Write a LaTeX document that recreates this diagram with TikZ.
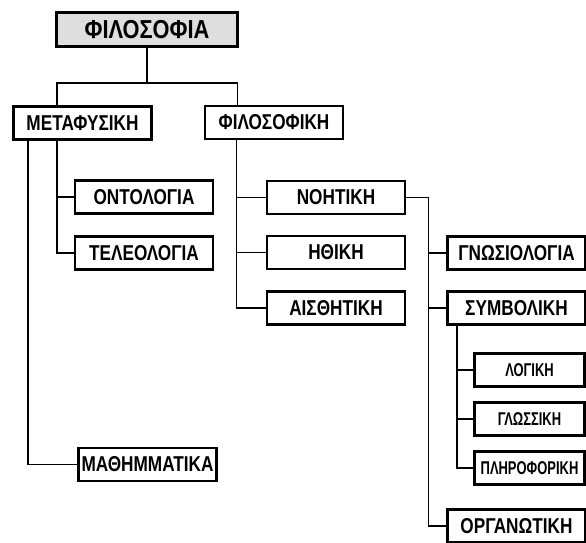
\documentclass[tikz,border=0pt]{standalone}
\usepackage{fontspec}
\setmainfont{Liberation Sans}[FakeStretch=0.80]
\newfontfamily\headfont{Liberation Sans}[FakeStretch=0.84]
\newfontfamily\narrowfont{Liberation Sans}[FakeStretch=0.70]
\usepackage{tikz}
\usetikzlibrary{positioning}

\begin{document}
\begin{tikzpicture}[
  x=1pt, y=-1pt,
  box/.style={draw, line width=2.8pt, align=center, font=\bfseries\fontsize{21.5}{23}\selectfont, inner sep=0pt, minimum width=138pt, minimum height=33pt},
  head/.style={box, fill=black!13, minimum width=181pt, minimum height=34pt, font=\headfont\bfseries\fontsize{26}{28}\selectfont},
  small/.style={box, minimum width=110pt, font=\narrowfont\bfseries\fontsize{18.5}{20}\selectfont},
  link/.style={line width=1.3pt}]
  \useasboundingbox (0,0) rectangle (586,543);
  \node[head] (root) at (147,29.5) {ΦΙΛΟΣΟΦΙΑ};
  \node[box] (meta) at (82.5,123) {ΜΕΤΑΦΥΣΙΚΗ};
  \node[box] (filo) at (274,122.5) {ΦΙΛΟΣΟΦΙΚΗ};
  \node[box] (onto) at (144,197) {ΟΝΤΟΛΟΓΙΑ};
  \node[box] (tele) at (144,253) {ΤΕΛΕΟΛΟΓΙΑ};
  \node[box] (math) at (147.5,464.5) {ΜΑΘΗΜΜΑΤΙΚΑ};
  \node[box] (noet) at (336,197.5) {ΝΟΗΤΙΚΗ};
  \node[box] (ethi) at (336,252.5) {ΗΘΙΚΗ};
  \node[box] (aest) at (336,308) {ΑΙΣΘΗΤΙΚΗ};
  \node[box] (gnos) at (516.5,253) {ΓΝΩΣΙΟΛΟΓΙΑ};
  \node[box] (symb) at (516.5,308) {ΣΥΜΒΟΛΙΚΗ};
  \node[small] (logi) at (529.5,370) {ΛΟΓΙΚΗ};
  \node[small] (glos) at (529.5,419) {ΓΛΩΣΣΙΚΗ};
  \node[small] (plir) at (529.5,468) {ΠΛΗΡΟΦΟΡΙΚΗ};
  \node[box] (orga) at (516.5,526) {ΟΡΓΑΝΩΤΙΚΗ};
  % top level
  \draw[link] (root.south) -- ++(0,35) -| ([xshift=45pt]meta.north west);
  \draw[link] (root.south) ++(0,35) -| ([xshift=34pt]filo.north west);
  % metaphysics
  \draw[link] ([xshift=45pt]meta.south west) |- (onto.west);
  \draw[link] ([xshift=45pt]meta.south west) |- (tele.west);
  \draw[link] ([xshift=16pt]meta.south west) |- (math.west);
  % philosophy branches
  \draw[link] ([xshift=33pt]filo.south west) |- (noet.west);
  \draw[link] ([xshift=33pt]filo.south west) |- (ethi.west);
  \draw[link] ([xshift=33pt]filo.south west) |- (aest.west);
  \draw[link] (noet.east) -- ++(22,0) |- (orga.west);
  \draw[link] (noet.east) ++(22,0) |- (gnos.west);
  \draw[link] (noet.east) ++(22,0) |- (symb.west);
  % symbolic
  \draw[link] ([xshift=11pt]symb.south west) |- (logi.west);
  \draw[link] ([xshift=11pt]symb.south west) |- (glos.west);
  \draw[link] ([xshift=11pt]symb.south west) |- (plir.west);
\end{tikzpicture}
\end{document}
